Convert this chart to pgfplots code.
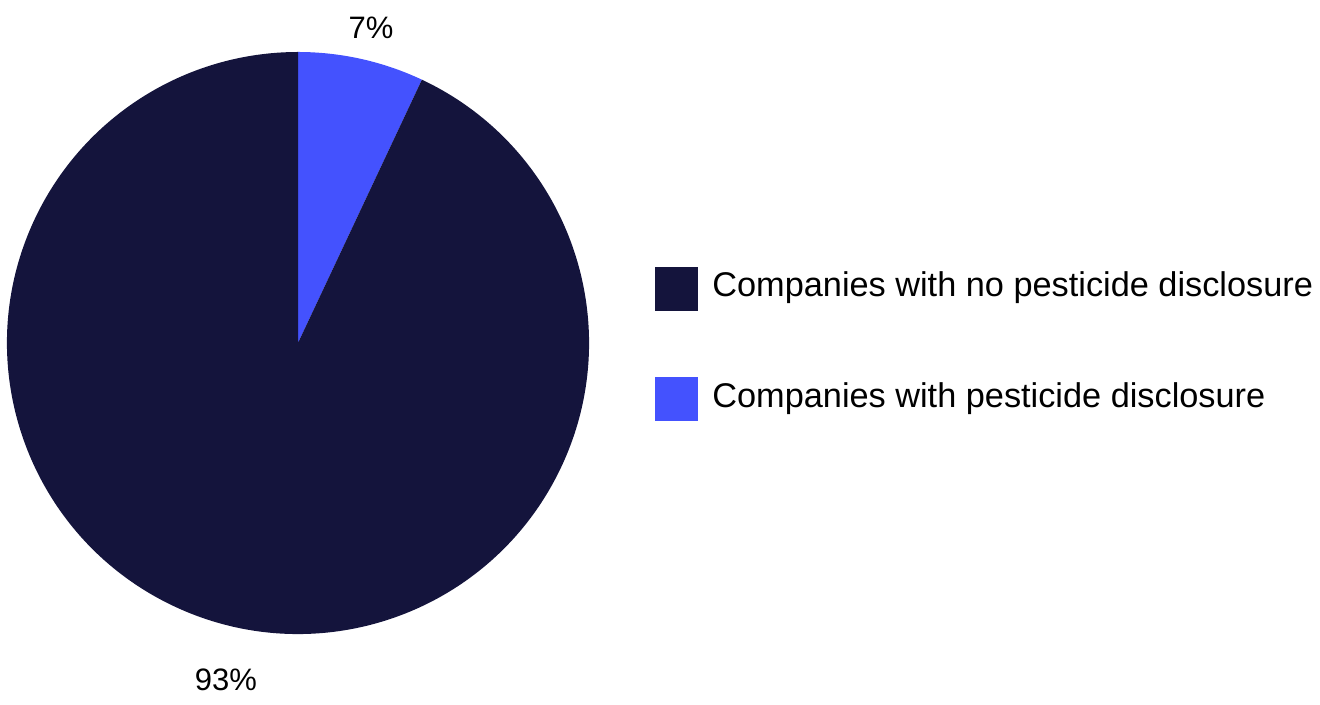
\documentclass[border=0pt]{standalone}
\usepackage{pgfplots}
\pgfplotsset{compat=1.18}
\usepackage{fontspec}
\setmainfont{Liberation Sans}
\definecolor{navy}{HTML}{14143C}
\definecolor{brightblue}{HTML}{4452FE}
\begin{document}
\begin{tikzpicture}
\begin{axis}[
  x=0.5pt, y=0.5pt,
  xmin=0, xmax=1320, ymin=0, ymax=705,
  hide axis, clip=false, scale only axis,
  anchor=origin, at={(0,0)},
]
% pie values (percent)
\def\valA{93}% no disclosure
\def\valB{7}% disclosure
\def\R{145.5pt}
\fill[brightblue] (axis cs:298,362) -- ++(90:\R)
  arc[start angle=90, end angle={90-3.6*\valB}, radius=\R] -- cycle;
\fill[navy] (axis cs:298,362) -- ++({90-3.6*\valB}:\R)
  arc[start angle={90-3.6*\valB}, end angle={90-3.6*(\valB+\valA)}, radius=\R] -- cycle;
\node[font=\fontsize{15.5}{18}\selectfont] at (axis cs:371,677) {7\%};
\node[font=\fontsize{15.5}{18}\selectfont] at (axis cs:226,25) {93\%};
% legend
\fill[navy] (axis cs:655,394) rectangle (axis cs:698,438);
\fill[brightblue] (axis cs:655,284) rectangle (axis cs:698,328);
\node[anchor=west, inner sep=0pt, font=\fontsize{17.15}{20}\selectfont] at (axis cs:712,417) {Companies with no pesticide disclosure};
\node[anchor=west, inner sep=0pt, font=\fontsize{17.15}{20}\selectfont] at (axis cs:712,306) {Companies with pesticide disclosure};
\end{axis}
\pgfresetboundingbox
\path (0,0) rectangle (660pt,352.5pt);
\end{tikzpicture}
\end{document}
